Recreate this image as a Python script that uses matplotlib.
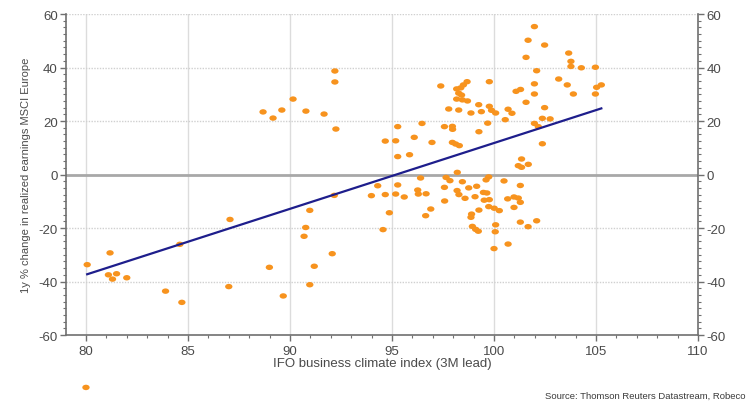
import numpy as np
import matplotlib
matplotlib.use("Agg")
import matplotlib.pyplot as plt
from matplotlib.path import Path
from matplotlib.transforms import Affine2D
from matplotlib.ticker import MultipleLocator

plt.rcParams['font.family'] = ['Liberation Sans', 'DejaVu Sans']
plt.rcParams['axes.unicode_minus'] = False

# IFO business climate index (3M lead) vs 1y % change in realized earnings, MSCI Europe
ifo = [
    80.06, 81.18, 81.10, 81.30, 81.50, 82.00, 83.90, 84.60, 84.70, 87.00,
    87.06, 88.99, 89.67, 90.69, 90.77, 90.97, 91.19, 90.97, 92.07, 92.17,
    88.68, 89.17, 89.60, 90.15, 90.78, 91.67, 92.20, 92.20, 92.25,
    80.00,
    93.99, 94.30, 94.56, 94.67, 94.67, 94.87,
    95.18, 95.18, 95.28, 95.28, 95.28, 95.60, 95.86,
    96.09, 96.26, 96.29, 96.40, 96.47, 96.65, 96.67, 96.90, 96.96,
    97.39, 97.57, 97.57, 97.58, 97.65, 97.78, 97.84, 97.96, 97.97, 97.96,
    98.12, 98.30, 98.20, 98.19, 98.28, 98.17, 98.17, 98.27, 98.37, 98.50,
    98.68, 98.41, 98.45, 98.70, 98.27, 98.87, 98.45, 98.58, 98.76,
    98.90, 98.87, 98.94, 99.10, 99.23,
    99.07, 99.15, 99.26, 99.25, 99.38, 99.26, 99.48, 99.65, 99.52, 99.77,
    99.61, 99.74, 99.74, 99.69, 99.77, 99.88, 100.08, 99.77,
    100.01, 100.26, 100.08, 100.06, 100.00, 100.49, 100.55, 100.69, 100.88,
    100.67, 100.69, 100.98, 101.19, 101.29, 100.98, 101.29,
    101.08, 101.30, 101.19, 101.35, 101.68, 101.35, 101.57, 101.57, 101.67,
    101.98, 101.98, 101.98, 102.09, 101.98, 102.17, 102.37, 102.75, 102.48,
    102.48, 102.37, 101.29, 101.67, 102.09,
    103.17, 103.59, 103.66, 103.77, 103.77, 103.89, 104.28, 104.97, 104.97,
    105.03, 105.26,
]
earnings = [
    -33.7, -29.3, -37.5, -39.1, -37.1, -38.6, -43.6, -26.1, -47.8, -41.9,
    -16.8, -34.7, -45.4, -23.1, -19.8, -13.4, -34.3, -41.2, -29.6, -7.8,
    23.4, 21.1, 24.1, 28.2, 23.7, 22.6, 38.7, 34.6, 17.0,
    -79.6,
    -7.9, -4.2, -20.6, 12.5, -7.5, -14.3,
    12.6, -7.3, 17.9, 6.7, -3.9, -8.4, 7.4,
    13.9, -5.8, -7.3, -1.3, 19.1, -15.4, -7.2, -12.9, 12.0,
    33.1, 17.9, -4.8, -9.9, -1.1, 24.5, -2.3, 18.0, 16.9, 12.0,
    11.4, 10.8, 0.8, -6.0, -7.5, 28.2, 32.0, 30.4, 32.4, 33.5,
    34.7, 29.7, 27.9, 27.5, 24.1, 23.0, -2.7, -8.9, -5.0,
    -14.8, -16.0, -19.4, -20.5, -21.2,
    -8.3, -4.4, -13.3, 26.1, 23.5, 16.0, -6.7, -6.9, -9.6, -9.4,
    -2.0, -0.9, -12.0, 19.2, 25.5, 24.0, 23.0, 34.7,
    -12.6, -13.5, -18.8, -21.4, -27.7, -2.4, 20.5, 24.4, 22.9,
    -9.1, -26.0, -8.4, -8.8, -10.4, -12.3, -4.1,
    31.1, 31.8, 3.3, 2.7, 3.8, 5.8, 27.0, 43.8, 50.2,
    55.3, 33.9, 30.1, 38.8, 19.1, 17.9, 21.0, 20.8, 25.0,
    48.4, 11.5, -17.8, -19.5, -17.3,
    35.7, 33.5, 45.4, 42.3, 40.4, 30.1, 39.9, 40.1, 30.1,
    32.6, 33.5,
]

x_ticks = [80, 85, 90, 95, 100, 105, 110]
y_ticks = [-60, -40, -20, 0, 20, 40, 60]

x_label = "IFO business climate index (3M lead)"
y_label = "1y % change in realized earnings MSCI Europe"
source_note = "Source: Thomson Reuters Datastream, Robeco"

ORANGE = "#F7931E"
NAVY = "#1E1E8C"
TEXT = "#4A4A4A"
SPINE = "#707070"

x = np.asarray(ifo)
y = np.asarray(earnings)

fig = plt.figure(figsize=(7.48, 4.06), dpi=100)
ax = fig.add_axes([0.0882, 0.1724, 0.8450, 0.7906])
ax.set_xlim(79.02, 110)
ax.set_ylim(-60, 60)

# grid: solid verticals, dotted horizontals, heavier zero line
for xv in x_ticks[:-1]:
    ax.axvline(xv, color="#DCDCDC", lw=1.0, zorder=0)
for yv in y_ticks:
    if yv == 0:
        ax.axhline(0, color="#A8A8A8", lw=2.0, zorder=1)
    elif yv != -60:
        ax.axhline(yv, color="#D0D0D0", lw=1.0, ls=(0, (1, 1)), zorder=0)

# slightly wide elliptical dots
ell = Path.unit_circle().transformed(Affine2D().scale(1.35, 1.0))
ax.scatter(x, y, s=28, marker=ell, color=ORANGE, edgecolors="none",
           zorder=3, clip_on=False)

# least-squares trend over the plotted range
inside = (y >= -60) & (y <= 60)
slope, intercept = np.polyfit(x[inside], y[inside], 1)
tx = np.array([x[inside].min(), x[inside].max()])
ax.plot(tx, slope * tx + intercept, color=NAVY, lw=1.6, zorder=4)

# axes styling
ax.spines["top"].set_visible(False)
for side in ("left", "right", "bottom"):
    ax.spines[side].set_color(SPINE)
    ax.spines[side].set_linewidth(1.2)

ax.set_xticks(x_ticks)
ax.set_yticks(y_ticks)
ax.xaxis.set_minor_locator(MultipleLocator(1))
ax.yaxis.set_minor_locator(MultipleLocator(2.5))
ax.tick_params(axis="both", which="major", direction="out", length=4,
               width=1.0, color=SPINE, labelsize=9.5, labelcolor=TEXT)
ax.tick_params(axis="both", which="minor", direction="out", length=2,
               width=0.8, color=SPINE)
ax.tick_params(axis="y", which="both", left=True, right=True,
               labelleft=True, labelright=True, pad=2)
ax.tick_params(axis="x", pad=3)

ax.set_xlabel(x_label, fontsize=9.5, color=TEXT, labelpad=0)
ax.set_ylabel(y_label, fontsize=8.0, color=TEXT, labelpad=5)

fig.text(0.997, 0.012, source_note, ha="right", va="bottom",
         fontsize=6.8, color="#3A3A3A")

fig.savefig("out.png", dpi=100, facecolor="white")
